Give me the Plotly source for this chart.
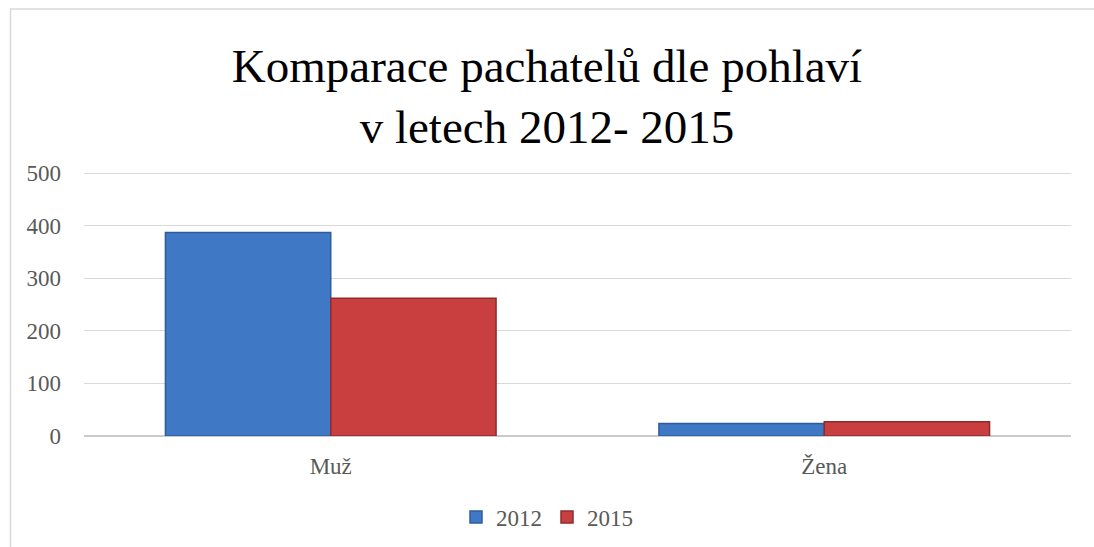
import plotly.graph_objects as go

categories = ["Muž", "Žena"]
series_names = ["2012", "2015"]
values_2012 = [387, 24]
values_2015 = [262, 27]
y_ticks = [0, 100, 200, 300, 400, 500]

W, H = 1094, 547
L, R, T, B = 84, 23, 173, 111

fig = go.Figure()
fig.add_trace(go.Bar(
    x=categories, y=values_2012, name=series_names[0],
    marker=dict(color="#3F78C4", line=dict(color="#2F5D9C", width=1.5)),
))
fig.add_trace(go.Bar(
    x=categories, y=values_2015, name=series_names[1],
    marker=dict(color="#C93F3F", line=dict(color="#8E2C2C", width=1.5)),
))

font_serif = "Liberation Serif"
pw = W - L - R
ph = H - T - B

fig.update_layout(
    width=W, height=H,
    margin=dict(l=L, r=R, t=T - 1, b=B, pad=0),
    paper_bgcolor="white", plot_bgcolor="white",
    barmode="group", bargap=0.33, bargroupgap=0,
    title=dict(
        text="Komparace pachatelů dle pohlaví<br>v letech 2012- 2015",
        font=dict(family=font_serif, size=47, color="black"),
        x=0.5, xanchor="center", xref="container",
        y=1 - 82 / H, yref="container", yanchor="top",
    ),
    font=dict(family=font_serif, size=23, color="#595959"),
    xaxis=dict(
        showgrid=False, showline=False, ticks="", zeroline=False,
        ticklabelstandoff=14,
        tickfont=dict(family=font_serif, size=23, color="#595959"),
    ),
    yaxis=dict(
        range=[0, 502], tickvals=y_ticks, showgrid=True,
        gridcolor="#D9D9D9", gridwidth=1.3,
        zeroline=True, zerolinecolor="#CACACA", zerolinewidth=2,
        showline=False, ticks="", ticklabelstandoff=22,
        tickfont=dict(family=font_serif, size=23, color="#595959"),
    ),
    legend=dict(
        orientation="h", x=0.5, xanchor="center", xref="container",
        y=(H - 517) / H, yref="container", yanchor="middle",
        font=dict(family=font_serif, size=23, color="#595959"),
        itemwidth=30, tracegroupgap=0,
    ),
    showlegend=True,
)

# outer chart border (partially visible in the reference)
fig.add_shape(
    type="rect", xref="paper", yref="paper",
    x0=(10.5 - L) / pw, x1=(W + 20 - L) / pw,
    y0=(H - T - (H + 20)) / ph, y1=(H - B - 10.5) / ph,
    line=dict(color="#D9D9D9", width=1.5), fillcolor="rgba(0,0,0,0)",
    layer="below",
)

fig.write_html(
    "out.html",
    config={"displayModeBar": False},
    post_script="document.body.style.margin='0';document.body.style.overflow='hidden';",
)
